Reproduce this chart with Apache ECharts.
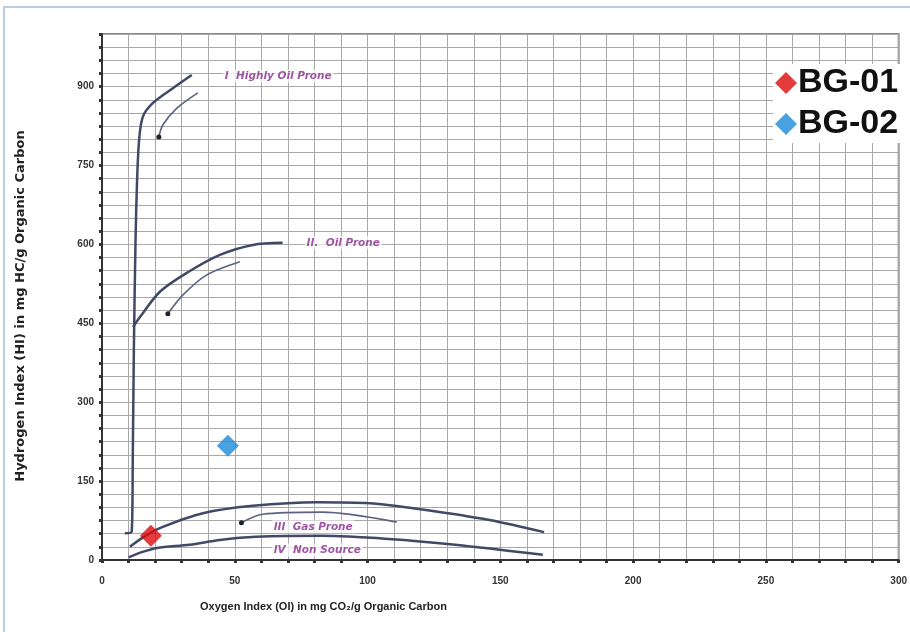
<!DOCTYPE html>
<html>
<head>
<meta charset="utf-8">
<script src="https://cdn.jsdelivr.net/npm/echarts@6/dist/echarts.min.js"></script>
<style>
html,body{margin:0;padding:0;background:#fff;}
#c{width:910px;height:632px;}
</style>
</head>
<body>
<div id="c"></div>
<script>
// ---- data ----
const xTickLabels = [0, 50, 100, 150, 200, 250, 300];
const yTickLabels = [0, 150, 300, 450, 600, 750, 900];
const typeI = [[8.6,51],[11.2,54],[11.6,200],[12.0,400],[12.6,600],[13.2,720],[14.0,800],[15.4,843],[19.2,869],[26.7,897],[33.8,922]];
const typeIArrow = [[21.4,804],[22.9,827],[28.2,859],[36.1,888]];
const typeII = [[11.7,443],[14.3,462],[21.8,510],[32,546],[44.4,580],[56.8,599],[68,603]];
const typeIIArrow = [[24.8,468],[30.5,504],[39.5,542],[51.9,567]];
const typeIII = [[10.5,25],[16,45],[22.9,63],[38,89],[56.8,103],[80.8,110],[100.8,108],[120.7,96],[145.9,76],[166.5,53]];
const typeIIIArrow = [[52.5,71],[60.5,87],[83,91],[111,72]];
const typeIV = [[10,5],[15,15],[20.7,23],[33,29],[44.4,38],[58,44],[83,46],[108,40],[133,29],[166,10]];
const curveLabelText = ['I  Highly Oil Prone', 'II.  Oil Prone', 'III  Gas Prone', 'IV  Non Source'];
const curveLabelPos = [[45.5,920],[76.3,603],[63.9,63],[63.9,19]];
const bg01 = [[18.4,46]];
const bg02 = [[47.4,217]];

const curveColor = '#414966';
const arrowColor = '#5b6283';

function curve(name, data, w, col){
  return {name:name, type:'line', data:data, smooth:0.3, symbol:'none', silent:true,
    lineStyle:{color:col, width:w}, z:3};
}
function arrow(name, data){
  const d = data.map((p,i)=> i===0 ? {value:p, symbol:'circle', symbolSize:5, itemStyle:{color:'#222'}} : {value:p});
  return {name:name, type:'line', data:d, smooth:0.3, symbol:'none', showSymbol:true, silent:true,
    lineStyle:{color:arrowColor, width:1.6}, z:3};
}

const chart = echarts.init(document.getElementById('c'), null, {renderer:'canvas'});
chart.setOption({
  animation:false,
  backgroundColor:'#fff',
  grid:{left:102, right:10, top:34, bottom:72, show:true, borderColor:'#8a8a8a', borderWidth:2},
  xAxis:{type:'value', min:0, max:300, interval:10,
    axisLine:{lineStyle:{color:'#333', width:2}},
    axisTick:{show:true, length:3, lineStyle:{color:'#333', width:3}},
    axisLabel:{margin:16, color:'#333', fontSize:10, fontWeight:'bold', fontFamily:'Liberation Sans',
      formatter:v=> xTickLabels.indexOf(v)>=0 ? String(v) : ''},
    splitLine:{show:true, lineStyle:{color:'#a8a8a8', width:1}}
  },
  yAxis:{type:'value', min:0, max:1000, interval:25,
    axisLine:{lineStyle:{color:'#333', width:2}},
    axisTick:{show:true, length:3, lineStyle:{color:'#333', width:3}},
    axisLabel:{margin:8, color:'#333', fontSize:10, fontWeight:'bold', fontFamily:'Liberation Sans',
      formatter:v=> yTickLabels.indexOf(v)>=0 ? String(v) : ''},
    splitLine:{show:true, lineStyle:{color:'#a8a8a8', width:1}}
  },
  legend:{orient:'vertical', left:773, top:64, itemGap:7, itemWidth:22, itemHeight:22,
    backgroundColor:'#fff', padding:[2,6,2,2],
    data:[{name:'BG-01', icon:'diamond'},{name:'BG-02', icon:'diamond'}],
    textStyle:{fontSize:34, fontWeight:'bold', color:'#111', fontFamily:'Liberation Sans', padding:[0,0,0,-4]}
  },
  graphic:[
    {type:'rect', shape:{x:4, y:7, width:930, height:660}, style:{fill:'none', stroke:'#b9cde5', lineWidth:2}, silent:true},
    {type:'text', x:21, y:306, rotation:Math.PI/2,
      style:{text:'Hydrogen Index (HI) in mg HC/g Organic Carbon', align:'center', verticalAlign:'middle',
        font:'bold 13px "DejaVu Sans"', fill:'#222'}},
    {type:'text', x:200, y:607,
      style:{text:'Oxygen Index (OI) in mg CO₂/g Organic Carbon', align:'left', verticalAlign:'middle',
        font:'bold 11px "Liberation Sans"', fill:'#222'}}
  ],
  series:[
    curve('I', typeI, 2.5, curveColor),
    arrow('Ia', typeIArrow),
    curve('II', typeII, 2.5, curveColor),
    arrow('IIa', typeIIArrow),
    curve('III', typeIII, 2.5, curveColor),
    arrow('IIIa', typeIIIArrow),
    curve('IV', typeIV, 2.5, curveColor),
    {name:'labels', type:'scatter', symbolSize:0, silent:true, z:4,
      data:curveLabelPos.map((p,i)=>({value:p, name:curveLabelText[i]})),
      label:{show:true, position:'right', distance:0, formatter:p=>p.name,
        color:'#862a8c', fontSize:10.5, fontStyle:'italic', fontWeight:'bold', fontFamily:'DejaVu Sans',
        backgroundColor:'rgba(255,255,255,0.85)', padding:[1,2]}},
    {name:'BG-01', type:'scatter', symbol:'diamond', symbolSize:22, data:bg01, itemStyle:{color:'#dd0a0a'}, z:5},
    {name:'BG-02', type:'scatter', symbol:'diamond', symbolSize:22, data:bg02, itemStyle:{color:'#1c8ad8'}, z:5}
  ]
});
</script>
</body>
</html>
